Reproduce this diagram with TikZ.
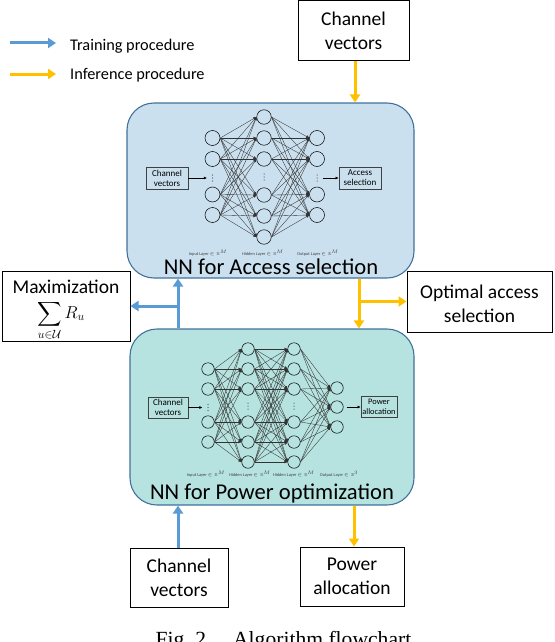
\documentclass[tikz,border=0pt]{standalone}
\usepackage{amsmath,amssymb}
\usepackage{fontspec}
\setmainfont{Carlito}
\newfontfamily\capfont{Liberation Serif}
\usetikzlibrary{arrows.meta}
\definecolor{trainblue}{HTML}{5B9BD5}
\definecolor{inferyellow}{HTML}{FFC000}
\definecolor{accessfill}{HTML}{CBE0EF}
\definecolor{powerfill}{HTML}{B6E3DF}
\definecolor{panelline}{HTML}{41719C}
\tikzset{
  train/.style={trainblue, line width=3pt, -{Triangle[length=8pt,width=10pt]}},
  infer/.style={inferyellow, line width=3pt, -{Triangle[length=8pt,width=10pt]}},
  outerbox/.style={draw=black, line width=1pt, fill=white, align=center, inner sep=0pt, font=\fontsize{19.5}{24}\selectfont},
  panel/.style={draw=panelline, line width=1.1pt, rounded corners=27pt, inner sep=0pt},
  paneltitle/.style={font=\fontsize{22.6}{22.6}\selectfont, inner sep=0pt},
  neuron/.style={circle, draw=black, line width=0.5pt, inner sep=0pt},
  smallbox/.style={draw=black!75, line width=0.6pt, align=center, inner sep=0pt, font=\fontsize{9}{10}\selectfont},
  layertag/.style={font=\fontsize{4.4}{4.4}\selectfont, text=black!75, inner sep=0pt},
  synapse/.style={black!80, line width=0.35pt, -{Latex[length=3pt,width=3pt]}},
  flowtip/.style={black, line width=0.5pt, -{Latex[length=3pt,width=3pt]}},
  vdotmark/.style={inner sep=0pt, minimum width=11pt, minimum height=9pt,
    path picture={\fill (path picture bounding box.center) circle (0.5pt) ++(0,3) circle (0.5pt) ++(0,-6) circle (0.5pt);}}
}
\begin{document}
\begin{tikzpicture}[x=1pt,y=-1pt]
    \useasboundingbox (0,0) rectangle (554,642);
    \coordinate (xtop) at (355,0);
    \coordinate (xmid) at (359,0);
    \coordinate (xbot) at (354,0);
    \coordinate (xin) at (178,0);
    % panels
    \node[panel, fill=accessfill, minimum width=287pt, minimum height=175pt] (access) at (270.5,190.5) {};
    \node[panel, fill=powerfill, minimum width=284pt, minimum height=176pt] (power) at (272,417) {};
    % access network
    \foreach \n/\y in {1/138,2/159,4/194.5,5/215} {
      \node[neuron, minimum size=15pt] (a\n) at (212.5,\y) {};
      \node[neuron, minimum size=15pt] (c\n) at (317,\y) {};
    }
    \foreach \n/\y in {1/117,2/138,3/159,4/195,5/216,6/237}
      \node[neuron, minimum size=14.5pt] (b\n) at (264,\y) {};
    \foreach \i in {1,2,4,5}
      \foreach \j in {1,...,6} {
        \draw[synapse] (a\i.east) -- (b\j.west);
        \draw[synapse] (b\j.east) -- (c\i.west);
      }
    \node[vdotmark] (adots) at (212.5,178) {};
    \node[vdotmark] (bdots) at (264,177) {};
    \node[vdotmark] (cdots) at (317,178) {};
    \node[smallbox, minimum width=42pt, minimum height=22pt] (accin) at (167,178) {Channel\\vectors};
    \node[smallbox, minimum width=42pt, minimum height=22pt] (accout) at (360,178) {Access\\selection};
    \draw[flowtip] (accin.east) -- (adots.west);
    \draw[flowtip] (cdots.east) -- (accout.west);
    \node[layertag] (atag) at (208,253) {Input Layer $\in\mathbb{R}^{M}$};
    \node[layertag] (btag) at (263,253) {Hidden Layer $\in\mathbb{R}^{M}$};
    \node[layertag] (ctag) at (318,253) {Output Layer $\in\mathbb{R}^{M}$};
    \node[paneltitle] (acctitle) at (271,267) {NN for Access selection};
    % power network
    \foreach \n/\y in {1/369,2/389,4/422,5/442}
      \node[neuron, minimum size=12.5pt] (p\n) at (208,\y) {};
    \foreach \n/\y in {1/349,2/369,3/389,4/422,5/442,6/462} {
      \node[neuron, minimum size=12.5pt] (q\n) at (248,\y) {};
      \node[neuron, minimum size=12.5pt] (r\n) at (294,\y) {};
    }
    \foreach \n/\y in {1/388,2/407,3/427}
      \node[neuron, minimum size=12.5pt] (s\n) at (337,\y) {};
    \foreach \j in {1,...,6} {
      \foreach \i in {1,2,4,5}
        \draw[synapse] (p\i.east) -- (q\j.west);
      \foreach \i in {1,...,6}
        \draw[synapse] (q\j.east) -- (r\i.west);
      \foreach \i in {1,2,3}
        \draw[synapse] (r\j.east) -- (s\i.west);
    }
    \node[vdotmark] (pdots) at (208,407.5) {};
    \node[vdotmark] (qdots) at (248,406) {};
    \node[vdotmark] (rdots) at (294,406) {};
    \node[smallbox, minimum width=40pt, minimum height=21pt] (powin) at (168,407.5) {Channel\\vectors};
    \node[smallbox, minimum width=36pt, minimum height=21pt, font=\fontsize{8.4}{10}\selectfont] (powout) at (379,407) {Power\\allocation};
    \draw[flowtip] (powin.east) -- (pdots.west);
    \draw[flowtip, shorten <=3pt] (s2.east) -- (powout.west);
    \node[layertag] (ptag) at (206,474) {Input Layer $\in\mathbb{R}^{M}$};
    \node[layertag] (qtag) at (250,474) {Hidden Layer $\in\mathbb{R}^{M}$};
    \node[layertag] (rtag) at (294,474) {Hidden Layer $\in\mathbb{R}^{M}$};
    \node[layertag] (stag) at (339,474) {Output Layer $\in\mathbb{R}^{3}$};
    \node[paneltitle] (powtitle) at (272,494) {NN for Power optimization};
    % outer boxes
    \node[outerbox, minimum width=111pt, minimum height=60pt] (chtop) at (353.5,31) {Channel\\vectors};
    \node[outerbox, minimum width=145pt, minimum height=61pt] (optimal) at (479.5,301.5) {\rule{0pt}{18pt}Optimal access\\selection};
    \node[outerbox, minimum width=128pt, minimum height=70pt] (maxsum) at (66,306) {\rule{0pt}{22pt}Maximization\\[1pt]\hspace*{-10pt}\fontsize{17}{17}\selectfont$\displaystyle\sum_{u\in\mathcal{U}} R_u$};
    \node[outerbox, minimum width=98pt, minimum height=59pt] (chbot) at (179,577.5) {Channel\\vectors};
    \node[outerbox, minimum width=104pt, minimum height=59pt] (powbot) at (352,576.5) {Power\\allocation};
    % arrows
    \draw[infer] (xtop |- chtop.south) -- (xtop |- access.north);
    \draw[infer] (xmid |- access.south) -- (xmid |- power.north);
    \draw[infer] (xmid |- optimal.west) -- (optimal.west);
    \draw[infer] (xbot |- power.south) -- (xbot |- powbot.north);
    \draw[train] (xin |- chbot.north) -- (xin |- power.south);
    \draw[train] (xin |- power.north) -- (xin |- access.south);
    \draw[train] (xin |- maxsum.east) -- (maxsum.east);
    % legend
    \coordinate (leg1) at (10,43);
    \coordinate (leg2) at (10,74);
    \node[anchor=west, inner sep=0pt, font=\fontsize{16.3}{16.3}\selectfont] (legtrain) at (70,46) {Training procedure};
    \node[anchor=west, inner sep=0pt, font=\fontsize{16.3}{16.3}\selectfont] (leginfer) at (70,75) {Inference procedure};
    \draw[train] (leg1) -- ++(46,0);
    \draw[infer] (leg2) -- ++(46,0);
    % caption
    \node[inner sep=0pt, anchor=base, font=\capfont\fontsize{21.6}{21.6}\selectfont] (caption) at (283.5,646) {Fig.\ 2.\quad Algorithm flowchart};
\end{tikzpicture}
\end{document}
